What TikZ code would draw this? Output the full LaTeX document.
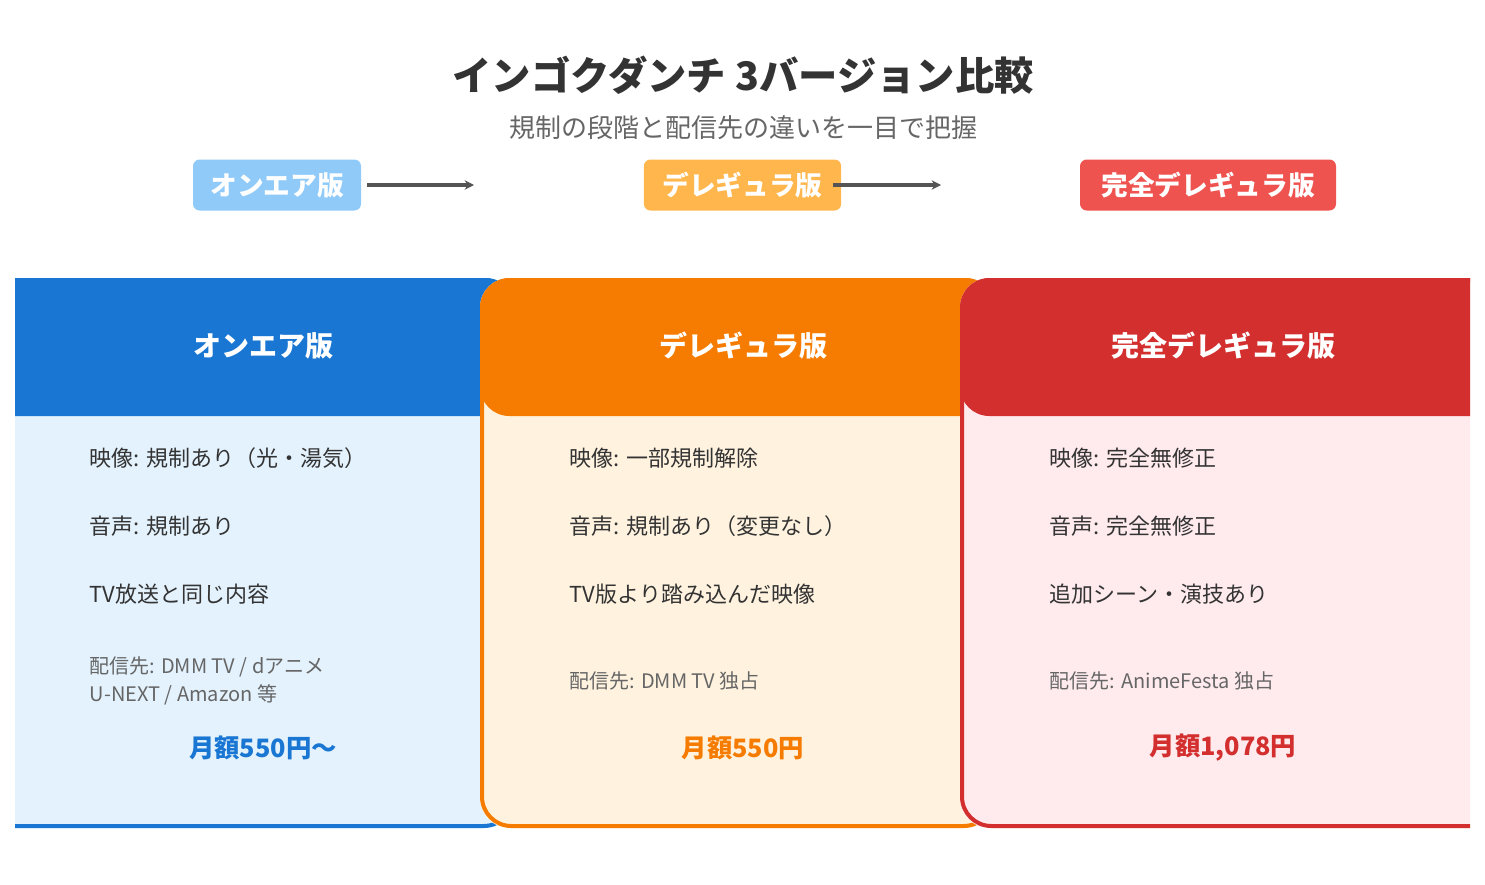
\documentclass[tikz,border=0pt]{standalone}
\usepackage{fontspec}
\setmainfont{Noto Sans CJK JP}
\usetikzlibrary{arrows.meta}
\begin{document}
\begin{tikzpicture}[x=0.75pt,y=-0.75pt,
  pill/.style={rounded corners=5pt,minimum height=38.25pt,text=white,font=\fontsize{20}{24}\selectfont\bfseries},
  arr/.style={draw=black!67,line width=2.4pt,-{Stealth[length=7pt,width=7pt]}},
  head/.style={text=white,font=\fontsize{21}{25}\selectfont\bfseries},
  item/.style={anchor=west,text=black!80,font=\fontsize{16.5}{19}\selectfont},
  dist/.style={anchor=west,text=black!60,align=left,font=\fontsize{15}{21}\selectfont},
  price/.style={font=\fontsize{19}{23}\selectfont\bfseries}]
\useasboundingbox (0,0) rectangle (1485,885);
\fill[white] (0,0) rectangle (1485,885);
\definecolor{bA}{HTML}{1976D2}\definecolor{lA}{HTML}{E3F2FD}
\definecolor{bB}{HTML}{F57C00}\definecolor{lB}{HTML}{FFF3E0}
\definecolor{bC}{HTML}{D32F2F}\definecolor{lC}{HTML}{FFEBEE}
\node[text=black!80,font=\fontsize{29.5}{34}\selectfont\bfseries] (title) at (743,75) {インゴクダンチ 3バージョン比較};
\node[text=black!60,font=\fontsize{19.5}{23}\selectfont] (sub) at (743,128) {規制の段階と配信先の違いを一目で把握};
\node[pill,fill={rgb,255:red,144;green,202;blue,249},minimum width=126pt] (p1) at (277,185) {オンエア版};
\node[pill,fill={rgb,255:red,255;green,183;blue,77},minimum width=148pt] (p2) at (742.5,185) {デレギュラ版};
\node[pill,fill={rgb,255:red,239;green,83;blue,80},minimum width=192pt] (p3) at (1208,185) {完全デレギュラ版};
\coordinate (s1) at (367,185); \coordinate (a1) at (474,185);
\coordinate (s2) at (833,185); \coordinate (a2) at (941,185);
\draw[arr] (s1) -- (a1);
\draw[arr] (s2) -- (a2);
\begin{scope}
\clip (15,0) rectangle (1470,885);
\foreach \xa/\xb/\bc/\lc in {-20/515/bA/lA, 480/995/bB/lB, 960/1505/bC/lC}{
  \begin{scope}
  \fill[\lc,rounded corners=22pt] (\xa,278) rectangle (\xb,828);
  \clip[rounded corners=22pt] (\xa,278) rectangle (\xb,828);
  \fill[\bc,rounded corners=22pt] (\xa,270) rectangle (\xb,416);
  \end{scope}
  \draw[\bc,line width=3pt,rounded corners=22pt] (\xa+2,280) rectangle (\xb-2,826);
}
\end{scope}
\node[head] (h1) at (263,346) {オンエア版};
\node[head] (h2) at (743,346) {デレギュラ版};
\node[head] (h3) at (1223,346) {完全デレギュラ版};
\node[item] (a1i) at (85,458) {映像: 規制あり（光・湯気）};
\node[item] (a2i) at (85,526) {音声: 規制あり};
\node[item] (a3i) at (85,594) {TV放送と同じ内容};
\node[dist] (a4i) at (85,681) {配信先: DMM TV / dアニメ\\U-NEXT / Amazon 等};
\node[price,text=bA] (a5i) at (263,748) {月額550円〜};
\node[item] (b1i) at (565,458) {映像: 一部規制解除};
\node[item] (b2i) at (565,526) {音声: 規制あり（変更なし）};
\node[item] (b3i) at (565,594) {TV版より踏み込んだ映像};
\node[dist] (b4i) at (565,681) {配信先: DMM TV 独占};
\node[price,text=bB] (b5i) at (743,748) {月額550円};
\node[item] (c1i) at (1045,458) {映像: 完全無修正};
\node[item] (c2i) at (1045,526) {音声: 完全無修正};
\node[item] (c3i) at (1045,594) {追加シーン・演技あり};
\node[dist] (c4i) at (1045,681) {配信先: AnimeFesta 独占};
\node[price,text=bC] (c5i) at (1223,748) {月額1,078円};
\end{tikzpicture}
\end{document}
